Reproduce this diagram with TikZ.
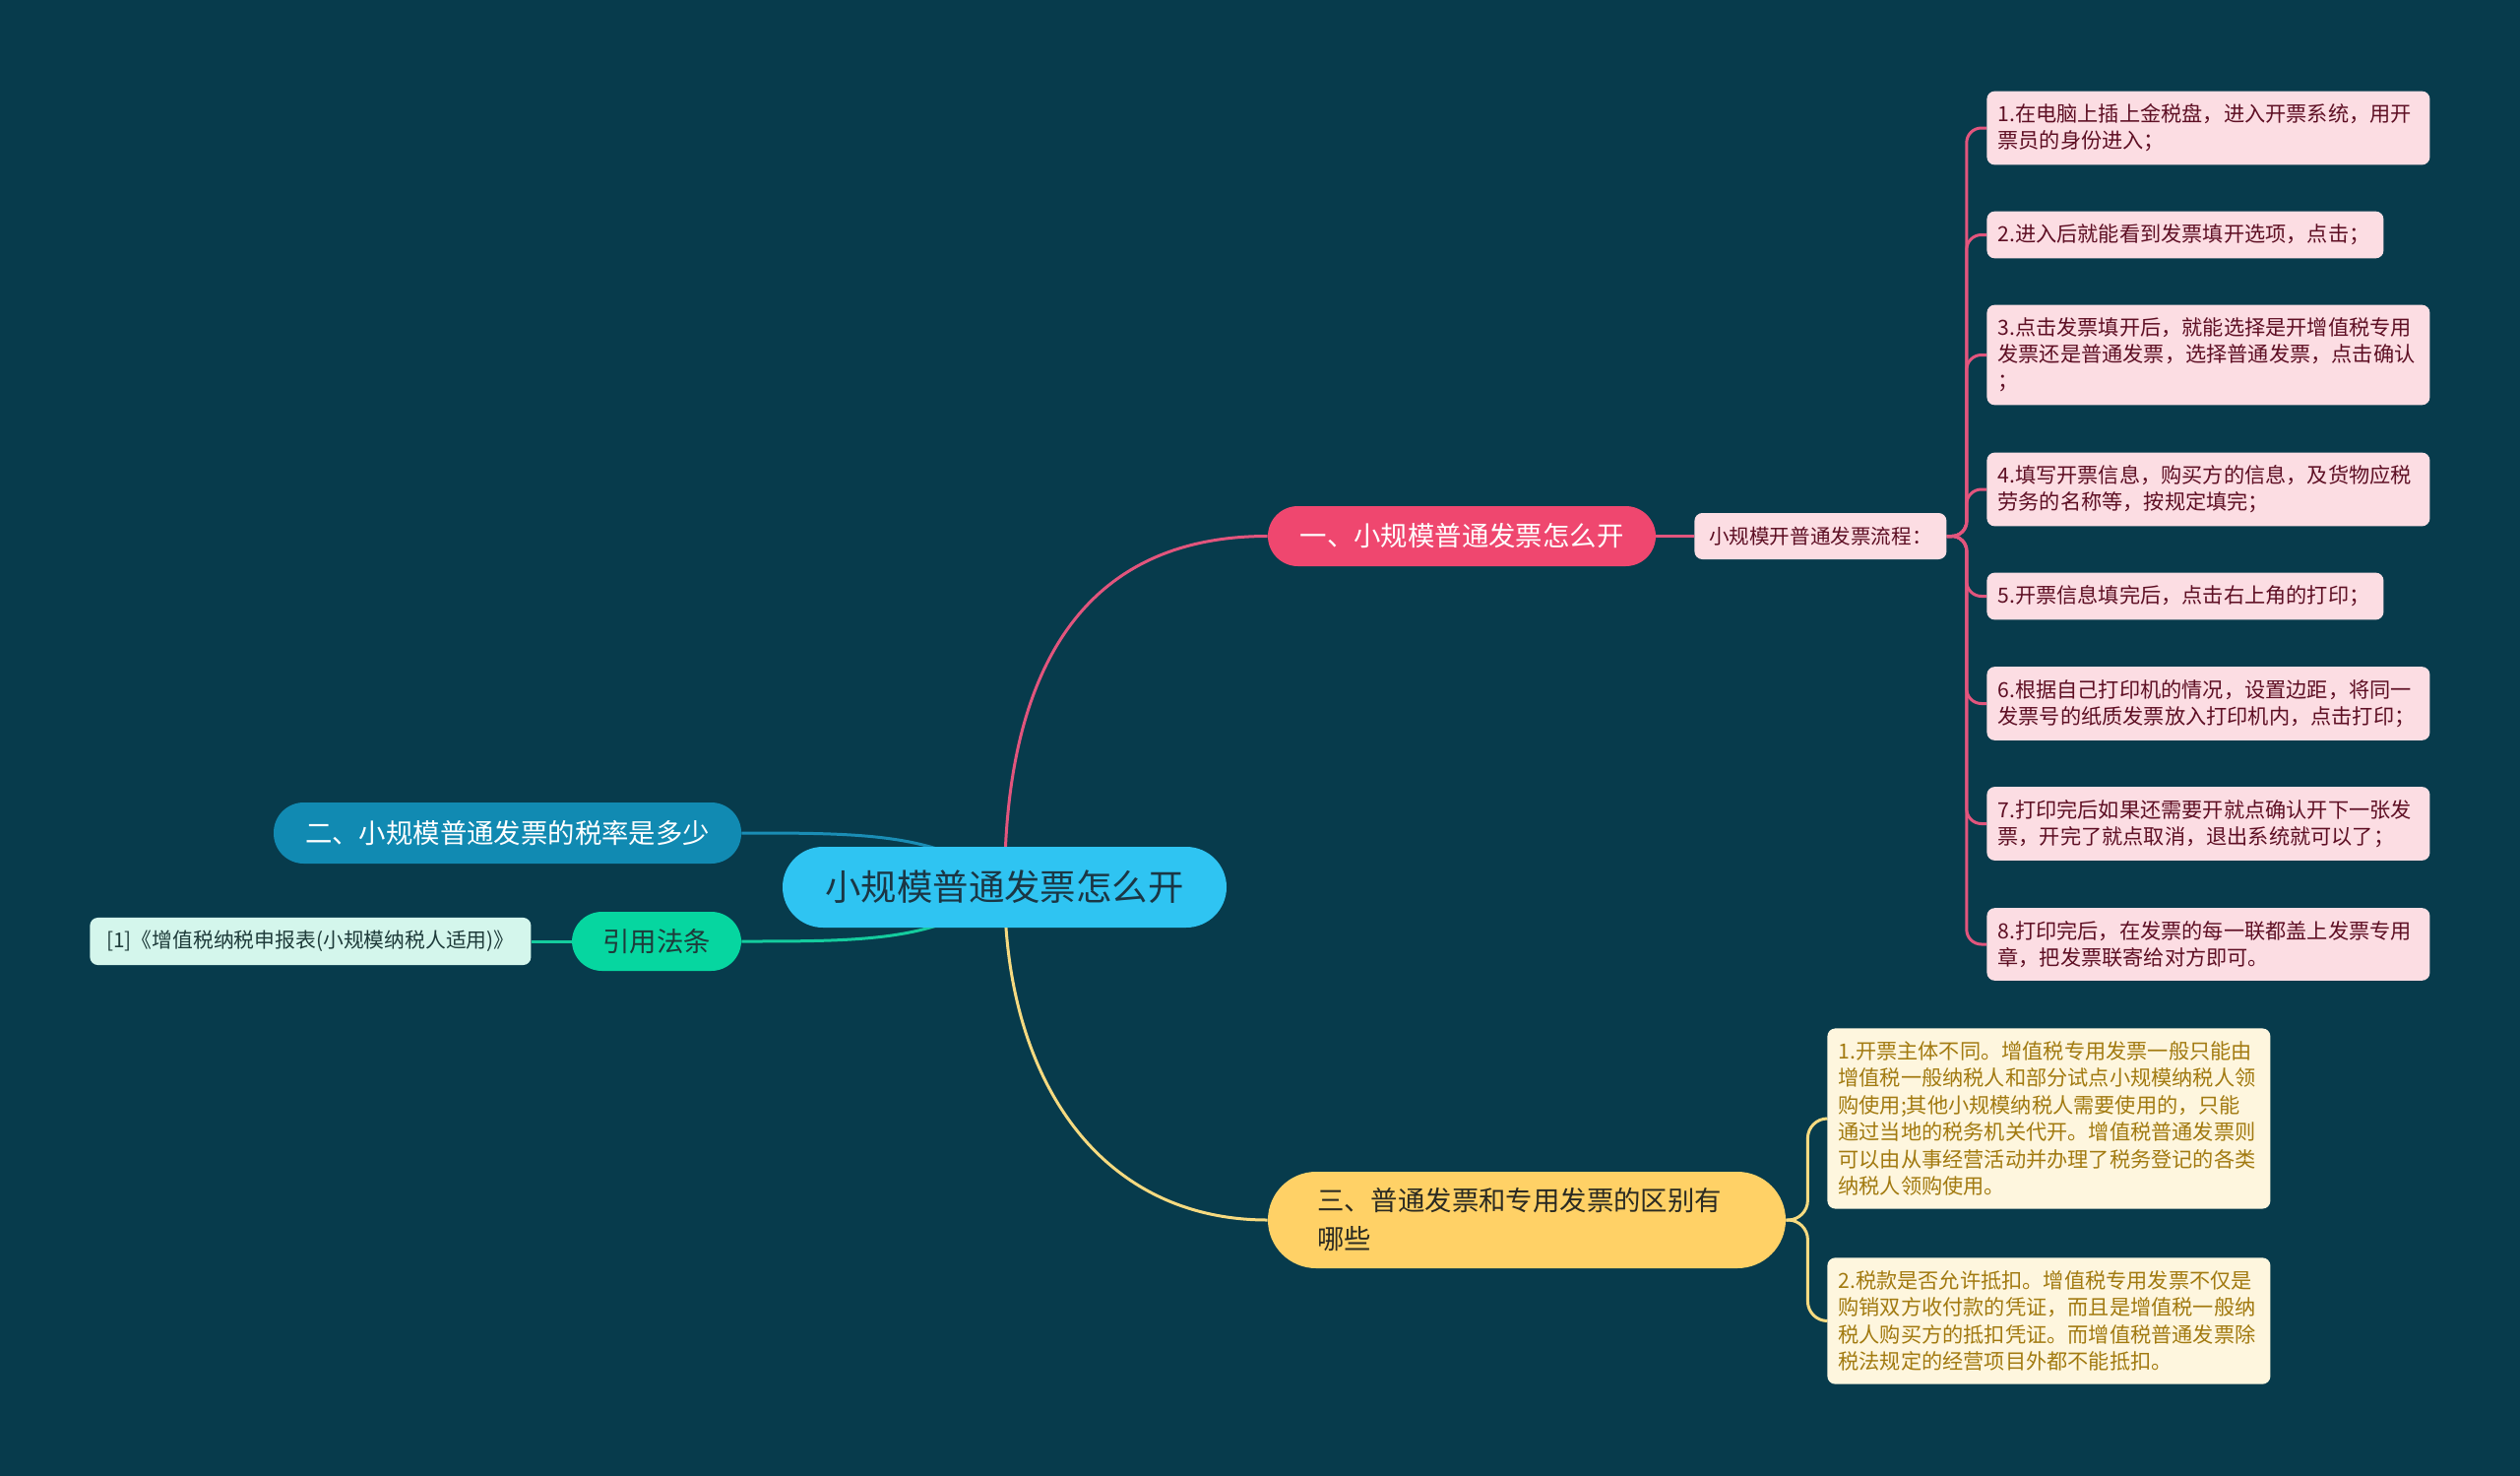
\documentclass[tikz,border=0pt]{standalone}
\usepackage{fontspec}
\setmainfont{Noto Sans CJK SC}
\usetikzlibrary{backgrounds}
\definecolor{deepsea}{HTML}{073B4C}
\definecolor{rootblue}{HTML}{2FC4F2}
\definecolor{rootink}{HTML}{1B3644}
\definecolor{rosered}{HTML}{EF476F}
\definecolor{roseline}{HTML}{E2557D}
\definecolor{roseleaf}{HTML}{FCDDE3}
\definecolor{roseink}{HTML}{5E0F24}
\definecolor{seablue}{HTML}{118AB2}
\definecolor{sealine}{HTML}{1A8DB5}
\definecolor{mint}{HTML}{06D6A0}
\definecolor{mintline}{HTML}{14CC9E}
\definecolor{mintleaf}{HTML}{D4F6EC}
\definecolor{mintink}{HTML}{1E3B3A}
\definecolor{sunny}{HTML}{FFD166}
\definecolor{sunline}{HTML}{F6DA80}
\definecolor{sunleaf}{HTML}{FEF6DE}
\definecolor{sunink}{HTML}{A27A10}
\definecolor{topicink}{HTML}{2A2A22}

\begin{document}
\begin{tikzpicture}[x=0.5pt,y=-0.5pt,
  root/.style={fill=rootblue, text=rootink, rounded corners=20.5pt, minimum width=225.5pt, minimum height=41pt, font=\fontsize{18.2}{22}\selectfont},
  topic/.style={rounded corners=15.25pt, minimum height=30.5pt, inner xsep=0pt, font=\fontsize{13.7}{19.5}\selectfont},
  leaf/.style={rounded corners=4pt, anchor=west, inner xsep=5.5pt, inner ysep=6.6pt, align=left, font=\fontsize{10.6}{13.5}\selectfont},
  rosebox/.style={leaf, fill=roseleaf, text=roseink, text width=214pt},
  sunbox/.style={leaf, fill=sunleaf, text=sunink, text width=214pt, font=\fontsize{10.6}{13.7}\selectfont},
  link/.style={line width=1.5pt}
]
\begin{scope}[on background layer]
\fill[deepsea] (0,0) rectangle (2560,1499);
\end{scope}
\useasboundingbox (0,0) rectangle (2560,1499);

% centre and main topics
\node[root] (c) at (1020.5,901) {小规模普通发票怎么开};
\node[topic, fill=rosered, text=white, minimum width=197pt] (t1) at (1485,544.5) {一、小规模普通发票怎么开};
\node[topic, fill=seablue, text=white, minimum width=237.5pt, minimum height=31pt] (t2) at (515.5,846) {二、小规模普通发票的税率是多少};
\node[topic, fill=mint, text=mintink, minimum width=86pt, minimum height=30pt] (law) at (667,956) {引用法条};
\node[topic, fill=sunny, text=topicink, minimum height=49pt, rounded corners=24.5pt, align=left, text width=213pt, inner xsep=25pt] (t3) at (1551,1239) {三、普通发票和专用发票的区别有\\哪些};

% reference leaf
\node[leaf, fill=mintleaf, text=mintink, font=\fontsize{10.4}{12}\selectfont, minimum width=224pt, minimum height=24pt, inner xsep=7pt] (ref) at (91,956) {[1]《增值税纳税申报表(小规模纳税人适用)》};

% steps
\node[leaf, fill=roseleaf, text=roseink, font=\fontsize{10.3}{12}\selectfont, minimum width=128pt, minimum height=23.5pt, inner xsep=5pt] (flow) at (1721,544.5) {小规模开普通发票流程：};
\node[rosebox] (s1) at (2018,130) {1.在电脑上插上金税盘，进入开票系统，用开\\票员的身份进入；};
\node[rosebox, text width=190.5pt] (s2) at (2018,238.5) {2.进入后就能看到发票填开选项，点击；};
\node[rosebox] (s3) at (2018,360.5) {3.点击发票填开后，就能选择是开增值税专用\\发票还是普通发票，选择普通发票，点击确认\\；};
\node[rosebox] (s4) at (2018,497) {4.填写开票信息，购买方的信息，及货物应税\\劳务的名称等，按规定填完；};
\node[rosebox, text width=190.5pt] (s5) at (2018,605.5) {5.开票信息填完后，点击右上角的打印；};
\node[rosebox] (s6) at (2018,714.5) {6.根据自己打印机的情况，设置边距，将同一\\发票号的纸质发票放入打印机内，点击打印；};
\node[rosebox] (s7) at (2018,836.5) {7.打印完后如果还需要开就点确认开下一张发\\票，开完了就点取消，退出系统就可以了；};
\node[rosebox] (s8) at (2018,959) {8.打印完后，在发票的每一联都盖上发票专用\\章，把发票联寄给对方即可。};

% differences
\node[sunbox] (d1) at (1856,1136) {1.开票主体不同。增值税专用发票一般只能由\\增值税一般纳税人和部分试点小规模纳税人领\\购使用;其他小规模纳税人需要使用的，只能\\通过当地的税务机关代开。增值税普通发票则\\可以由从事经营活动并办理了税务登记的各类\\纳税人领购使用。};
\node[sunbox] (d2) at (1856,1341.5) {2.税款是否允许抵扣。增值税专用发票不仅是\\购销双方收付款的凭证，而且是增值税一般纳\\税人购买方的抵扣凭证。而增值税普通发票除\\税法规定的经营项目外都不能抵扣。};

\begin{scope}[on background layer]
\draw[link, roseline] (c.center) .. controls (1020.5,680) and (1100,544.5) .. (t1.west);
\draw[link, sunline] (c.center) .. controls (1020.5,1100) and (1120,1239) .. (t3.west);
\draw[link, sealine] (c.center) .. controls (960,846) and (880,846) .. (t2.east);
\draw[link, mintline] (c.center) .. controls (960,956) and (880,956) .. (law.east);
\draw[link, mintline] (law.west) -- (ref.east);
\draw[link, roseline] (t1.east) -- (flow.west);
\draw[link, roseline, rounded corners=7.5pt] (flow.east) -- ++(20,0) |- (s1.west);
\draw[link, roseline, rounded corners=7.5pt] (flow.east) -- ++(20,0) |- (s2.west);
\draw[link, roseline, rounded corners=7.5pt] (flow.east) -- ++(20,0) |- (s3.west);
\draw[link, roseline, rounded corners=7.5pt] (flow.east) -- ++(20,0) |- (s4.west);
\draw[link, roseline, rounded corners=7.5pt] (flow.east) -- ++(20,0) |- (s5.west);
\draw[link, roseline, rounded corners=7.5pt] (flow.east) -- ++(20,0) |- (s6.west);
\draw[link, roseline, rounded corners=7.5pt] (flow.east) -- ++(20,0) |- (s7.west);
\draw[link, roseline, rounded corners=7.5pt] (flow.east) -- ++(20,0) |- (s8.west);
\draw[link, sunline, rounded corners=10pt] (t3.east) -- ++(22,0) |- (d1.west);
\draw[link, sunline, rounded corners=10pt] (t3.east) -- ++(22,0) |- (d2.west);
\end{scope}
\end{tikzpicture}
\end{document}
